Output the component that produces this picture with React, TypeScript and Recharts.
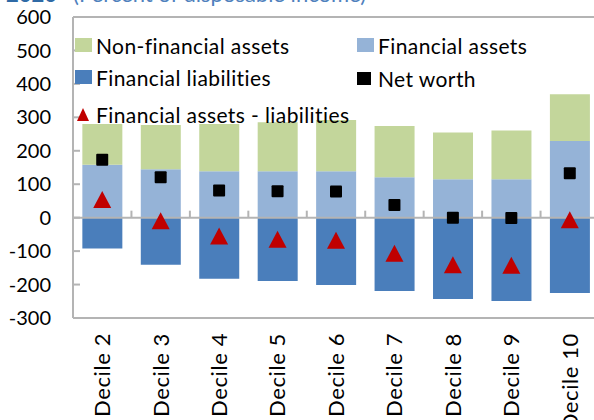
import React from "react";
import {
  Bar,
  ComposedChart,
  Legend,
  Line,
  ReferenceLine,
  XAxis,
  YAxis,
} from "recharts";

const deciles = [
  "Decile 2",
  "Decile 3",
  "Decile 4",
  "Decile 5",
  "Decile 6",
  "Decile 7",
  "Decile 8",
  "Decile 9",
  "Decile 10",
];
const nonFinancialAssets = [122, 132, 141, 146, 153, 153, 140, 146, 140];
const financialAssets = [158, 145, 139, 139, 139, 121, 115, 115, 229];
const financialLiabilities = [-92, -141, -183, -189, -201, -219, -243, -249, -225];
const netWorth = [173, 121, 81, 79, 78, 38, 0, -1, 133];
const netFinancial = [53, -11, -56, -66, -69, -108, -142, -144, -8];
const yTicks = [-300, -200, -100, 0, 100, 200, 300, 400, 500, 600];

const GREEN = "#C3D69B";
const LIGHT_BLUE = "#95B3D7";
const DARK_BLUE = "#4A7EBB";
const RED = "#C00000";
const GRAY = "#B4B4B4";
const FONT = "Lato, sans-serif";

const chartData = deciles.map((name, i) => ({
  name,
  nonFin: nonFinancialAssets[i],
  fin: financialAssets[i],
  liab: financialLiabilities[i],
  netWorth: netWorth[i],
  netFin: netFinancial[i],
}));

const legendItems = [
  { label: "Non-financial assets", kind: "box", color: GREEN, left: 75, top: 38 },
  { label: "Financial assets", kind: "box", color: LIGHT_BLUE, left: 357, top: 38 },
  { label: "Financial liabilities", kind: "box", color: DARK_BLUE, left: 75, top: 70 },
  { label: "Net worth", kind: "square", color: "#000", left: 357, top: 71 },
  { label: "Financial assets - liabilities", kind: "tri", color: RED, left: 77, top: 107 },
];

const renderLegend = () => (
  <div style={{ position: "relative", width: 594, height: 130, fontFamily: FONT }}>
    {legendItems.map((item) => (
      <div
        key={item.label}
        style={{
          position: "absolute",
          left: item.left,
          top: item.top,
          display: "flex",
          alignItems: "center",
          height: 14,
          fontSize: 21,
          letterSpacing: 0.4,
          color: "#000",
          whiteSpace: "nowrap",
        }}
      >
        {item.kind === "tri" ? (
          <svg width={12} height={13} style={{ marginRight: 7 }}>
            <polygon points="6,0 12,13 0,13" fill={item.color} />
          </svg>
        ) : (
          <span
            style={{
              display: "inline-block",
              width: item.kind === "box" ? 17 : 14,
              height: item.kind === "box" ? 14 : 13,
              background: item.color,
              marginRight: item.kind === "box" ? 4 : 7,
            }}
          />
        )}
        {item.label}
      </div>
    ))}
  </div>
);

const CategoryTick = (props: any) => {
  const { x, y, payload } = props;
  return (
    <text
      x={x}
      y={y}
      transform={`rotate(-90, ${x}, ${y})`}
      textAnchor="end"
      dy="0.36em"
      fontFamily={FONT}
      fontSize={22}
      letterSpacing={0.6}
      fill="#000"
    >
      {payload.value}
    </text>
  );
};

// zero line with category boundary ticks pointing up
const ZeroAxis = (props: any) => {
  const { x1, x2, y1 } = props;
  const step = (x2 - x1) / deciles.length;
  return (
    <g>
      <line x1={x1} x2={x2} y1={y1} y2={y1} stroke={GRAY} strokeWidth={2} />
      {deciles.slice(1).map((d, i) => (
        <line
          key={d}
          x1={x1 + step * (i + 1)}
          x2={x1 + step * (i + 1)}
          y1={y1}
          y2={y1 - 7}
          stroke={GRAY}
          strokeWidth={2}
        />
      ))}
    </g>
  );
};

const SquareDot = (props: any) => {
  const { cx, cy, index } = props;
  return <rect key={`sq-${index}`} x={cx - 6} y={cy - 6} width={12} height={12} fill="#000" rx={1} />;
};

const TriangleDot = (props: any) => {
  const { cx, cy, index } = props;
  return (
    <polygon
      key={`tri-${index}`}
      points={`${cx},${cy - 9} ${cx + 9},${cy + 8} ${cx - 9},${cy + 8}`}
      fill={RED}
    />
  );
};

export default function App() {
  return (
    <div
      style={{
        position: "absolute",
        left: 0,
        top: 0,
        width: 594,
        height: 420,
        overflow: "hidden",
        background: "#fff",
      }}
    >
      <div
        style={{
          position: "absolute",
          left: 6,
          top: -17,
          fontFamily: FONT,
          fontSize: 22,
          lineHeight: "22px",
          whiteSpace: "nowrap",
          color: "#4F81BD",
        }}
      >
        <span style={{ fontWeight: 700, color: "#2F6AA6" }}>2020</span>
        <span style={{ marginLeft: 16 }}>(Percent of disposable income)</span>
      </div>
      <ComposedChart
        width={620}
        height={420}
        data={chartData}
        stackOffset="sign"
        barCategoryGap="16%"
        margin={{ top: 17, right: 21, bottom: 72, left: 0 }}
      >
        <XAxis
          dataKey="name"
          interval={0}
          height={30}
          tickSize={0}
          tickMargin={15}
          tickLine={false}
          axisLine={{ stroke: GRAY, strokeWidth: 2 }}
          tick={<CategoryTick />}
        />
        <YAxis
          domain={[-300, 600]}
          ticks={yTicks}
          width={73}
          tickSize={-7}
          tickMargin={29}
          axisLine={{ stroke: GRAY, strokeWidth: 2 }}
          tickLine={{ stroke: GRAY, strokeWidth: 2 }}
          tick={{ fill: "#000", fontSize: 20, fontFamily: FONT }}
        />
        <ReferenceLine y={600} stroke={GRAY} strokeWidth={2} />
        <Bar dataKey="liab" stackId="a" fill={DARK_BLUE} isAnimationActive={false} />
        <Bar dataKey="fin" stackId="a" fill={LIGHT_BLUE} isAnimationActive={false} />
        <Bar dataKey="nonFin" stackId="a" fill={GREEN} isAnimationActive={false} />
        <ReferenceLine y={0} shape={ZeroAxis} />
        <Line
          dataKey="netWorth"
          stroke="none"
          dot={SquareDot}
          activeDot={false}
          isAnimationActive={false}
        />
        <Line
          dataKey="netFin"
          stroke="none"
          dot={TriangleDot}
          activeDot={false}
          isAnimationActive={false}
        />
        <Legend
          layout="horizontal"
          verticalAlign="middle"
          align="center"
          content={renderLegend}
          wrapperStyle={{ left: 0, top: 0, width: 594, height: 130 }}
        />
      </ComposedChart>
    </div>
  );
}
